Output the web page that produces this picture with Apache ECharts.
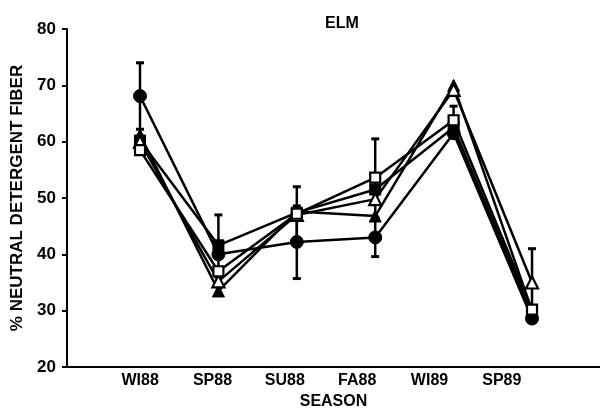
<!DOCTYPE html>
<html><head><meta charset="utf-8">
<script src="https://cdn.jsdelivr.net/npm/echarts@6/dist/echarts.min.js"></script>
<style>html,body{margin:0;padding:0;background:#fff}#c{width:600px;height:410px}</style>
</head><body><div id="c"></div>
<script>
const seasons = ['WI88','SP88','SU88','FA88','WI89','SP89'];
const yTicks = [20,30,40,50,60,70,80];
const filledCircle = [68.1, 40.0, 42.2, 43.0, 61.5, 28.6];
const filledTriangle = [61.2, 33.5, 47.6, 46.8, 70.0, 30.0];
const openTriangle = [60.0, 35.2, 47.0, 49.8, 69.2, 35.0];
const openSquare = [58.5, 37.0, 47.2, 53.6, 63.8, 30.2];
const filledSquare = [60.2, 41.6, 47.4, 51.5, 62.5, 29.4];
const errLow = [62.2, 36.0, 42.6, 46.6, 60.8, 29.0];
const errHigh = [74.0, 47.0, 52.0, 60.5, 66.3, 41.0];
const errLow2 = [null, null, 35.7, 39.6, null, null];
const errHigh2 = [null, null, 48.6, 46.4, null, null];

const F = 'Liberation Sans, Arial, sans-serif';
const chart = echarts.init(document.getElementById('c'));
function pts(arr){ return arr.map((v,i)=>[i+1, v]); }
const errData = [];
seasons.forEach((s,i)=>{
  errData.push([i+1, errLow[i], errHigh[i]]);
  if (errLow2[i] != null) errData.push([i+1, errLow2[i], errHigh2[i]]);
});
function mk(name, data, symbol, size, filled){
  return {
    name, type:'line', data: pts(data), symbol, symbolSize:size,
    lineStyle:{color:'#000', width:2.5},
    itemStyle: filled ? {color:'#000', borderColor:'#000', borderWidth:1}
                      : {color:'#fff', borderColor:'#000', borderWidth:2.2},
    z: filled ? 3 : 4, animation:false
  };
}
chart.setOption({
  animation:false,
  title:{text:'ELM', left:337, top:11, textAlign:'center',
    textStyle:{fontFamily:F, fontWeight:'bold', fontSize:16, color:'#000'}},
  grid:[{left:67, right:0, top:29, bottom:43, containLabel:false, outerBoundsMode:'none'},
        {left:104, right:62, top:29, bottom:43, containLabel:false, outerBoundsMode:'none'}],
  xAxis:[
    {type:'value', gridIndex:0, min:0.069, max:6.867,
     axisLine:{show:true, lineStyle:{color:'#000', width:2}},
     axisTick:{show:false}, axisLabel:{show:false}, splitLine:{show:false},
     name:'SEASON', nameLocation:'middle', nameGap:27,
     nameTextStyle:{fontFamily:F, fontWeight:'bold', fontSize:16, color:'#000'}},
    {type:'category', gridIndex:1, data:seasons, boundaryGap:true,
     axisLine:{show:false}, axisTick:{show:false}, splitLine:{show:false},
     axisLabel:{fontFamily:F, fontWeight:'bold', fontSize:16, color:'#000', margin:6}}
  ],
  yAxis:[
    {type:'value', gridIndex:0, min:20, max:80, interval:10,
     axisLine:{show:true, lineStyle:{color:'#000', width:2}},
     axisTick:{show:true, length:5, lineStyle:{color:'#000', width:2}},
     splitLine:{show:false},
     axisLabel:{fontFamily:F, fontWeight:'bold', fontSize:17, color:'#000', margin:11,
       formatter: v => yTicks.includes(v) ? String(v) : ''},
     name:'% NEUTRAL DETERGENT FIBER', nameLocation:'middle', nameGap:37,
     nameTextStyle:{fontFamily:F, fontWeight:'bold', fontSize:17, color:'#000'}},
    {type:'value', gridIndex:1, min:20, max:80, show:false}
  ],
  series:[
    {type:'custom', xAxisIndex:0, yAxisIndex:0, data:errData, z:2,
     renderItem:function(params, api){
       const x = api.value(0);
       const p1 = api.coord([x, api.value(1)]);
       const p2 = api.coord([x, api.value(2)]);
       const cw = 4;
       return {type:'group', children:[
         {type:'line', shape:{x1:p1[0], y1:p1[1], x2:p2[0], y2:p2[1]}, style:{stroke:'#000', lineWidth:2.5}},
         {type:'line', shape:{x1:p1[0]-cw, y1:p1[1], x2:p1[0]+cw, y2:p1[1]}, style:{stroke:'#000', lineWidth:3}},
         {type:'line', shape:{x1:p2[0]-cw, y1:p2[1], x2:p2[0]+cw, y2:p2[1]}, style:{stroke:'#000', lineWidth:3}}
       ]};
     }},
    mk('Filled circle', filledCircle, 'circle', 13, true),
    mk('Filled triangle', filledTriangle, 'triangle', 12, true),
    mk('Open triangle', openTriangle, 'triangle', 12, false),
    mk('Open square', openSquare, 'rect', 10, false),
    mk('Filled square', filledSquare, 'rect', 11, true)
  ]
});
</script></body></html>
